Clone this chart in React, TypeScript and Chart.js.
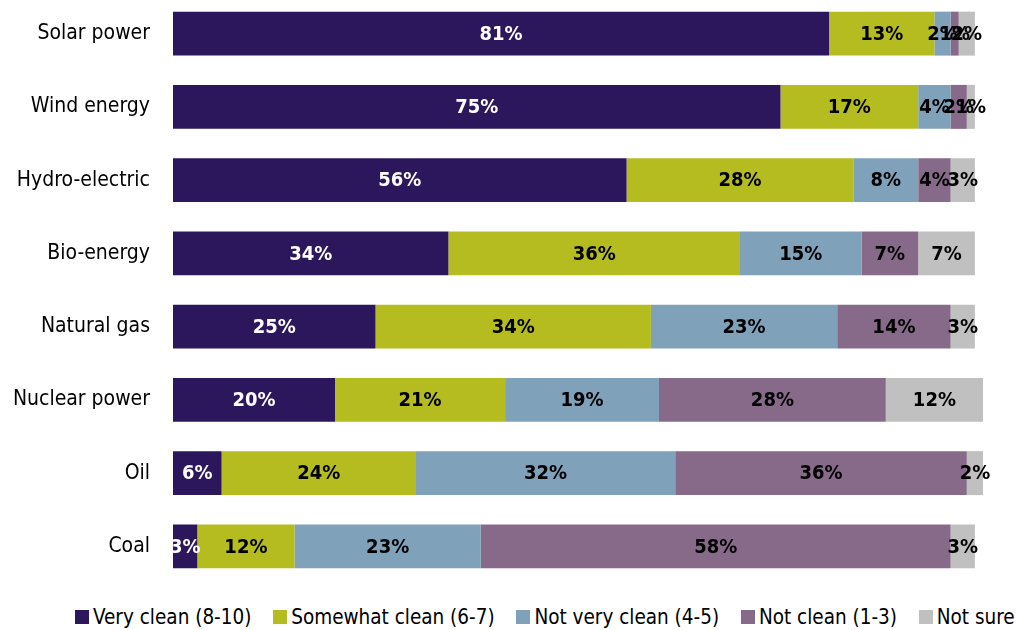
import React, { useEffect, useRef } from "react";
import { Chart, registerables } from "chart.js";

Chart.register(...registerables);

const categories = ["Solar power", "Wind energy", "Hydro-electric", "Bio-energy", "Natural gas", "Nuclear power", "Oil", "Coal"];
const seriesNames = ["Very clean (8-10)", "Somewhat clean (6-7)", "Not very clean (4-5)", "Not clean (1-3)", "Not sure"];
const veryClean = [81, 75, 56, 34, 25, 20, 6, 3];
const somewhatClean = [13, 17, 28, 36, 34, 21, 24, 12];
const notVeryClean = [2, 4, 8, 15, 23, 19, 32, 23];
const notClean = [1, 2, 4, 7, 14, 28, 36, 58];
const notSure = [2, 1, 3, 7, 3, 12, 2, 3];
const colors = ["#2D175C", "#B4BC1F", "#7FA1B9", "#876A89", "#C0C0C0"];
const labelColors = ["#FFFFFF", "#000000", "#000000", "#000000", "#000000"];

const FONT = "'Liberation Sans Narrow', 'DejaVu Sans Condensed', 'Liberation Sans', sans-serif";

const labelPlugin = {
  id: "segLabels",
  afterDatasetsDraw(chart: any) {
    const ctx = chart.ctx;
    ctx.save();
    ctx.font = `bold 20px ${FONT}`;
    ctx.textAlign = "center";
    ctx.textBaseline = "middle";
    chart.data.datasets.forEach((ds: any, di: number) => {
      const meta = chart.getDatasetMeta(di);
      meta.data.forEach((bar: any, i: number) => {
        const v = ds.data[i];
        const cx = (bar.x + bar.base) / 2;
        ctx.fillStyle = labelColors[di];
        ctx.fillText(v + "%", cx, bar.y + 1);
      });
    });
    ctx.restore();
  },
};

export default function App() {
  const ref = useRef<HTMLCanvasElement | null>(null);
  useEffect(() => {
    const all = [veryClean, somewhatClean, notVeryClean, notClean, notSure];
    const chart = new Chart(ref.current!, {
      type: "bar",
      data: {
        labels: categories,
        datasets: all.map((d, i) => ({
          label: seriesNames[i],
          data: d,
          backgroundColor: colors[i],
          borderWidth: 0,
          barPercentage: 0.6,
          categoryPercentage: 1,
        })),
      },
      options: {
        indexAxis: "y",
        animation: false,
        responsive: false,
        maintainAspectRatio: false,
        layout: { padding: { top: 0, right: 33, left: 0, bottom: 0 } },
        scales: {
          x: {
            stacked: true,
            min: 0,
            max: 100,
            display: false,
          },
          y: {
            stacked: true,
            grid: { display: false, drawTicks: false },
            border: { display: false },
            afterFit: (scale: any) => {
              scale.width = 173;
              scale.paddingTop = 0;
              scale.paddingBottom = 0;
            },
            ticks: {
              color: "#000000",
              font: { family: FONT, size: 21 },
              padding: 23,
            },
          },
        },
        plugins: {
          tooltip: { enabled: false },
          legend: { display: false },
        },
      },
      plugins: [labelPlugin],
    });
    return () => chart.destroy();
  }, []);
  return (
    <div style={{ position: "fixed", left: 0, top: 0, width: 1016, height: 630, background: "#fff", overflow: "hidden" }}>
      <canvas ref={ref} width={1016} height={586} style={{ position: "absolute", left: 0, top: -3, width: 1016, height: 586 }} />
      <div
        style={{
          position: "absolute",
          left: 75,
          top: 604,
          height: 26,
          display: "flex",
          justifyContent: "flex-start",
          alignItems: "center",
          fontFamily: FONT,
          fontSize: 20.5,
          color: "#000",
          whiteSpace: "nowrap",
        }}
      >
        {seriesNames.map((n, i) => (
          <div key={n} style={{ display: "flex", alignItems: "center", marginLeft: i === 0 ? 0 : 21.75 }}>
            <span style={{ display: "inline-block", width: 14, height: 14, background: colors[i], marginRight: 4 }} />
            <span>{n}</span>
          </div>
        ))}
      </div>
    </div>
  );
}
